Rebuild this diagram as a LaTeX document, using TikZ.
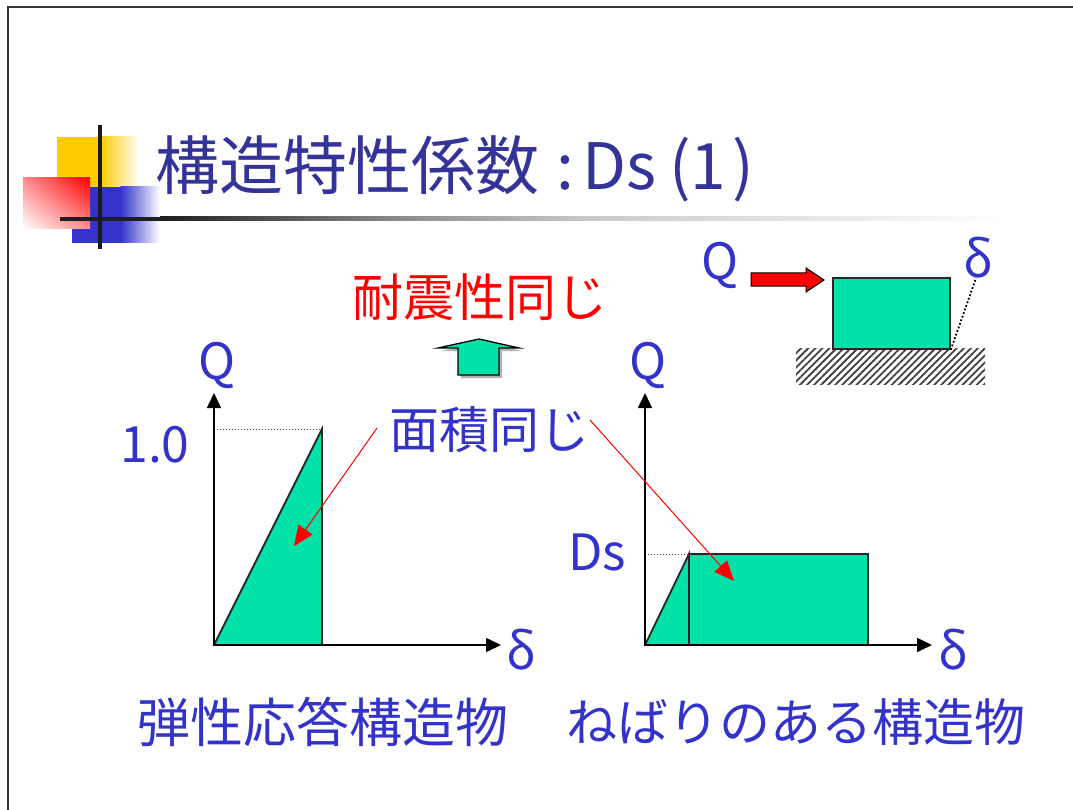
\documentclass[tikz,border=0pt]{standalone}
\usepackage{fontspec}
\setmainfont{Noto Sans CJK JP}
\usetikzlibrary{arrows.meta,patterns.meta,shadings}
\definecolor{titleblue}{RGB}{51,51,153}
\definecolor{lblue}{RGB}{51,51,204}
\definecolor{teal2}{RGB}{0,226,168}
\definecolor{myyellow}{RGB}{255,204,0}
\definecolor{myblue}{RGB}{51,51,204}
\tikzset{
  lbl/.style={text=lblue,inner sep=0pt,font=\fontsize{50}{50}\selectfont},
  ttl/.style={text=titleblue,inner sep=0pt,font=\fontsize{64}{64}\selectfont},
  axis/.style={line width=1.5pt,-{Triangle[length=15pt,width=14pt]}},
  area/.style={fill=teal2,draw=black!85,line width=1.8pt,line join=miter},
  dotl/.style={dotted,line width=1pt,black!70},
  redarrow/.style={red,line width=1pt,-{Triangle[length=20pt,width=17pt]}},
}
\begin{document}
\begin{tikzpicture}[x=1pt,y=-1pt]
\useasboundingbox (0,0) rectangle (1073,810);
% slide border
\draw[black!80,line width=2pt] (7.5,810) -- (7.5,7) -- (1073,7);
% decoration
\fill[myyellow] (57,137) rectangle (100,188);
\shade[left color=myyellow,right color=white] (99.5,137) rectangle (140,188);
\fill[myblue] (72,187) rectangle (121,243);
\shade[left color=myblue,right color=white] (120.5,187) rectangle (160,243);
\shade[upper right=red,lower left=white,upper left=red!45!white,lower right=red!45!white] (23,178) rectangle (90,229);
\fill[black!88] (60,217) rectangle (160.5,221);
\shade[left color=black!88,right color=black!45] (160,217) rectangle (400.5,221);
\shade[left color=black!45,right color=black!20] (400,217) rectangle (600.5,221);
\shade[left color=black!20,right color=white] (600,217) rectangle (1010,221);
\fill[black!90] (98,125) rectangle (102,249);
% title
\node[ttl,anchor=base west] (title) at (155,190) {構造特性係数};
\node[ttl,anchor=base] (tcolon) at (565,190) {:};
\node[ttl,anchor=base west] (tds) at (582,190) {Ds};
\node[ttl,anchor=base] (tlp) at (680,190) {(};
\node[ttl,anchor=base] (tone) at (708,190) {1};
\node[ttl,anchor=base] (trp) at (743,190) {)};
% top red text
\node[anchor=center,inner sep=0pt,text=red,font=\fontsize{51}{51}\selectfont] (same) at (480,297) {耐震性同じ};
% up block arrow
\fill[black!30] (441,351) -- (482,342) -- (522,351) -- (502,351) -- (502,378) -- (461,378) -- (461,351) -- cycle;
\draw[fill=teal2,line width=1.3pt,line join=miter] (438,348) -- (479,339) -- (519,348) -- (499,348) -- (499,375) -- (458,375) -- (458,348) -- cycle;
% area label
\node[lbl] (areasame) at (489,430) {面積同じ};
% left graph
\coordinate (O1) at (214,645);
\coordinate (T1) at (322,429);
\coordinate (B1) at (322,645);
\draw[area] (O1) -- (T1) -- (B1) -- cycle;
\draw[dotl] (214,429) -- (T1);
\coordinate (Y1) at (214,393);
\coordinate (X1) at (501,645);
\draw[axis] (O1) -- (Y1);
\draw[axis] (O1) -- (X1);
\node[lbl] (q1) at (217,365) {Q};
\node[lbl] (one) at (155,445) {1.0};
\node[lbl] (d1) at (521,650) {δ};
% right graph
\coordinate (O2) at (645,645);
\coordinate (T2) at (689,554);
\coordinate (R2) at (868,554);
\draw[area] (O2) -- (T2) -- (689,645) -- cycle;
\draw[area] (T2) rectangle (868,645);
\draw[dotl] (645,554) -- (T2);
\coordinate (Y2) at (645,393);
\coordinate (X2) at (932,645);
\draw[axis] (O2) -- (Y2);
\draw[axis] (O2) -- (X2);
\node[lbl] (q2) at (648,365) {Q};
\node[lbl] (ds) at (597,552) {Ds};
\node[lbl] (d2) at (953,650) {δ};
% red arrows
\coordinate (a1) at (294,546);
\coordinate (a2) at (734,581);
\draw[redarrow] (377,428) -- (a1);
\draw[redarrow] (590,420) -- (a2);
% top-right sketch
\fill[pattern={Lines[angle=45,distance=5pt,line width=1.8pt]},pattern color=black!75] (796,348) rectangle (985,384);
\node[draw=black!85,line width=1.8pt,fill=teal2,minimum width=117pt,minimum height=71pt,inner sep=0pt,anchor=north west] (block) at (832,277) {};
\draw[fill=red,line width=1pt,line join=miter] (751,273) -- (806,273) -- (806,268) -- (824,280) -- (806,292) -- (806,286) -- (751,286) -- cycle;
\node[lbl] (q3) at (720,265) {Q};
\node[lbl] (d3) at (978,258) {δ};
\draw[dotted,line width=1.8pt] (block.south east) -- (976,278);
% bottom labels
\node[lbl,font=\fontsize{53}{53}\selectfont] (elastic) at (323,722) {弾性応答構造物};
\node[lbl,font=\fontsize{51}{51}\selectfont] (ductile) at (796,722) {ねばりのある構造物};
\end{tikzpicture}
\end{document}
